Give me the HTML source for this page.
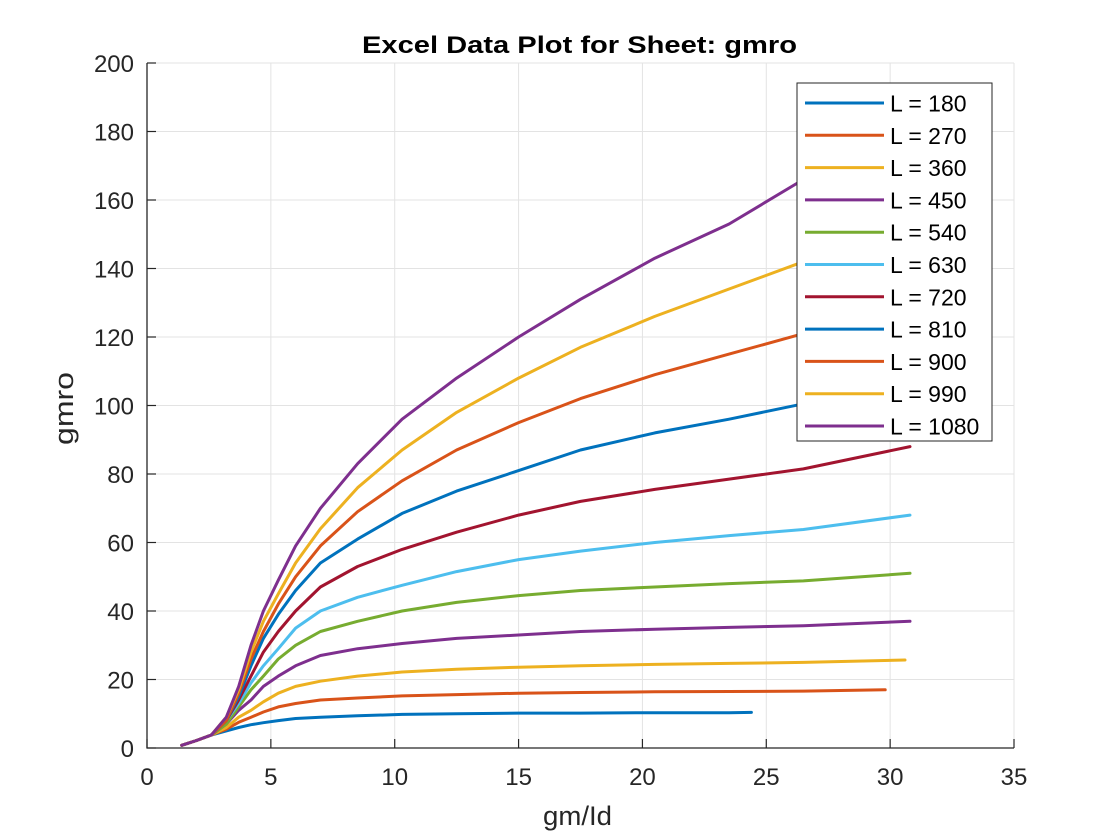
<!DOCTYPE html>
<html><head><meta charset="utf-8"><style>
body{margin:0;background:#fff;}
svg{display:block;font-family:"Liberation Sans",Arial,sans-serif;}
</style></head><body>
<svg id="chart" width="1120" height="840" viewBox="0 0 1120 840">
<rect width="1120" height="840" fill="#fff"/>
<g id="grid"></g>
<g id="series"></g>
<g id="axes"></g>
<text x="362" y="53" textLength="435" lengthAdjust="spacingAndGlyphs" font-size="24" font-weight="bold" fill="#000">Excel Data Plot for Sheet: gmro</text>
<text x="543" y="825" textLength="69" lengthAdjust="spacingAndGlyphs" font-size="27" fill="#262626">gm/Id</text>
<text transform="translate(73,445) rotate(-90)" textLength="73" lengthAdjust="spacingAndGlyphs" font-size="27" fill="#262626">gmro</text>
<g id="legend"></g>
</svg>
<script>
const xTicks=[0,5,10,15,20,25,30,35];
const yTicks=[0,20,40,60,80,100,120,140,160,180,200];
const labels=["L = 180","L = 270","L = 360","L = 450","L = 540","L = 630","L = 720","L = 810","L = 900","L = 990","L = 1080"];
const colors=["#0072BD","#D95319","#EDB120","#7E2F8E","#77AC30","#4DBEEE","#A2142F","#0072BD","#D95319","#EDB120","#7E2F8E"];
const xBase=[1.4,2,2.6,3.2,3.7,4.2,4.7,5.3,6,7,8.5,10.3,12.5,15,17.5,20.5,23.5,26.5,30.8];
const x180=[1.4,2,2.6,3.2,3.7,4.2,4.7,5.3,6,7,8.5,10.3,12.5,15,17.5,20.5,23.5,24.4];
const x270=[1.4,2,2.6,3.2,3.7,4.2,4.7,5.3,6,7,8.5,10.3,12.5,15,17.5,20.5,23.5,26.5,29.8];
const x360=[1.4,2,2.6,3.2,3.7,4.2,4.7,5.3,6,7,8.5,10.3,12.5,15,17.5,20.5,23.5,26.5,30.6];
const y180=[0.8,2.2,3.8,5,6,6.8,7.4,8,8.6,9,9.4,9.8,10,10.2,10.2,10.3,10.3,10.4];
const y270=[0.8,2.2,3.8,5.5,7.5,9,10.5,12,13,14,14.6,15.2,15.6,16,16.2,16.4,16.5,16.6,17];
const y360=[0.8,2.2,3.8,6,9,11,13.5,16,18,19.5,21,22.2,23,23.6,24,24.4,24.7,25,25.7];
const y450=[0.8,2.2,3.8,7,11,14,18,21,24,27,29,30.5,32,33,34,34.7,35.2,35.7,37];
const y540=[0.8,2.2,3.8,7,12,17,21,26,30,34,37,40,42.5,44.5,46,47,48,48.8,51];
const y630=[0.8,2.2,3.8,8,13,19,24,29,35,40,44,47.5,51.5,55,57.5,60,62,63.8,68];
const y720=[0.8,2.2,3.8,8,14,21,28,34,40,47,53,58,63,68,72,75.5,78.5,81.5,88];
const y810=[0.8,2.2,3.8,8,15,24,32,39,46,54,61,68.5,75,81,87,92,96,100.5,108];
const y900=[0.8,2.2,3.8,8,16,26,34,42,50,59,69,78,87,95,102,109,115,121,131];
const y990=[0.8,2.2,3.8,9,17,28,37,45,54,64,76,87,98,108,117,126,134,142,153];
const y1080=[0.8,2.2,3.8,9,18,30,40,49,59,70,83,96,108,120,131,143,153,166,180];
const seriesX=[x180,x270,x360,xBase,xBase,xBase,xBase,xBase,xBase,xBase,xBase];
const seriesY=[y180,y270,y360,y450,y540,y630,y720,y810,y900,y990,y1080];

const L=147,R=1014,T=63,B=748;
const sx=v=>L+(v-0)/35*(R-L);
const sy=v=>B-(v-0)/200*(B-T);
const NS="http://www.w3.org/2000/svg";
function mk(tag,attrs,parent){const e=document.createElementNS(NS,tag);for(const k in attrs)e.setAttribute(k,attrs[k]);parent.appendChild(e);return e;}
const grid=document.getElementById('grid'),axes=document.getElementById('axes'),ser=document.getElementById('series'),leg=document.getElementById('legend');
xTicks.forEach(t=>{
  const g=mk('line',{x1:sx(t),x2:sx(t),y1:T,y2:B,stroke:'#e3e3e3','stroke-width':1},grid);
  
  
  const tk=mk('line',{x1:sx(t),x2:sx(t),y1:B,y2:B-9,stroke:'#262626','stroke-width':1.2},axes);
  
  
  const tx=mk('text',{x:sx(t),y:785,'text-anchor':'middle','font-size':24,fill:'#262626'},axes);
  tx.textContent=t;
  
  
});
yTicks.forEach(t=>{
  const g=mk('line',{x1:L,x2:R,y1:sy(t),y2:sy(t),stroke:'#e3e3e3','stroke-width':1},grid);
  
  
  const tk=mk('line',{x1:L,x2:L+9,y1:sy(t),y2:sy(t),stroke:'#262626','stroke-width':1.2},axes);
  
  
  const tx=mk('text',{x:L-13,y:sy(t)+9,'text-anchor':'end','font-size':24,fill:'#262626'},axes);
  tx.textContent=t;
  
  
});
const ax=mk('path',{d:`M${L},${T}V${B}H${R}`,fill:'none',stroke:'#262626','stroke-width':1.3},axes);


seriesY.forEach((ys,i)=>{
  const xs=seriesX[i];
  const d=ys.map((v,j)=>(j?'L':'M')+sx(xs[j]).toFixed(1)+','+sy(v).toFixed(1)).join('');
  const p=mk('path',{d:d,fill:'none',stroke:colors[i],'stroke-width':3,'stroke-linejoin':'round','stroke-linecap':'round'},ser);
  
  
});
const box=mk('rect',{x:797,y:83,width:195,height:358,fill:'#fff',stroke:'#262626','stroke-width':1},leg);


labels.forEach((lab,i)=>{
  const y=103+i*32.3;
  const ln=mk('line',{x1:805,x2:884,y1:y,y2:y,stroke:colors[i],'stroke-width':3},leg);
  
  
  const t=mk('text',{x:890,y:y+8.5,'font-size':23,fill:'#000'},leg);
  t.textContent=lab;
  
  
});
</script>
</body></html>
